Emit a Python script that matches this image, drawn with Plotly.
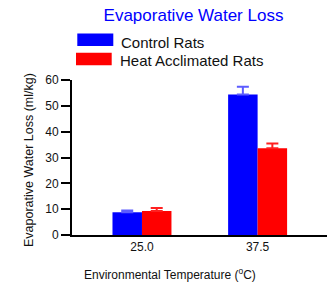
import plotly.graph_objects as go

categories = ["25.0", "37.5"]
control_vals = [8.8, 54.4]
control_err = [0.7, 3.0]
heat_vals = [9.3, 33.6]
heat_err = [1.2, 1.8]
y_ticks = [0, 10, 20, 30, 40, 50, 60]

FONT = "Liberation Sans, Arial, sans-serif"

W, H = 327, 286
L, R, T, B = 72, 0, 80, 51
PW, PH = W - L - R, H - T - B


def px(x):
    return (x - L) / PW


def py(y):
    return (H - B - y) / PH


fig = go.Figure()
fig.add_trace(go.Bar(
    x=categories, y=control_vals, name="Control Rats",
    marker=dict(color="#0000ff", line=dict(width=0)),
    error_y=dict(type="data", array=control_err, arrayminus=[0, 0], symmetric=False,
                 color="#5c5cff", thickness=2, width=6),
    showlegend=False,
))
fig.add_trace(go.Bar(
    x=categories, y=heat_vals, name="Heat Acclimated Rats",
    marker=dict(color="#ff0000", line=dict(width=0)),
    error_y=dict(type="data", array=heat_err, arrayminus=[0, 0], symmetric=False,
                 color="#ff2020", thickness=2, width=6),
    showlegend=False,
))

# custom legend
fig.add_shape(type="rect", xref="paper", yref="paper", x0=px(77.3), x1=px(113.3),
              y0=py(46), y1=py(33.5), fillcolor="#0000ff", line=dict(width=0))
fig.add_shape(type="rect", xref="paper", yref="paper", x0=px(76), x1=px(111.7),
              y0=py(65.3), y1=py(52.7), fillcolor="#ff0000", line=dict(width=0))
fig.add_annotation(text="Control Rats", xref="paper", yref="paper",
                   x=px(119), y=py(42), xanchor="left", yanchor="middle",
                   showarrow=False, font=dict(family=FONT, size=15, color="#111"))
fig.add_annotation(text="Heat Acclimated Rats", xref="paper", yref="paper",
                   x=px(118), y=py(60.5), xanchor="left", yanchor="middle",
                   showarrow=False, font=dict(family=FONT, size=15, color="#111"))

# axis titles
fig.add_annotation(text="Evaporative Water Loss (ml/kg)", xref="paper", yref="paper",
                   x=px(29), y=py(160), textangle=-90,
                   xanchor="center", yanchor="middle", showarrow=False,
                   font=dict(family=FONT, size=12.5, color="#111"))
fig.add_annotation(text="Environmental Temperature (<sup>o</sup>C)", xref="paper", yref="paper",
                   x=px(170), y=py(274), xanchor="center", yanchor="middle", showarrow=False,
                   font=dict(family=FONT, size=12, color="#111"))

fig.update_layout(
    width=W, height=H,
    margin=dict(l=L, r=R, t=T, b=B),
    plot_bgcolor="white", paper_bgcolor="white",
    barmode="group", bargap=0.49, bargroupgap=0,
    title=dict(text="Evaporative Water Loss", x=193.5 / W, xanchor="center",
               y=1 - 15 / H, yanchor="middle",
               font=dict(family=FONT, size=17, color="#0000ff")),
    font=dict(family=FONT, size=12, color="#111"),
    xaxis=dict(type="category", range=[-0.605, 1.6], showline=True, linecolor="black",
               linewidth=2, ticks="", showgrid=False, zeroline=False,
               tickfont=dict(family=FONT, size=12, color="#111")),
    yaxis=dict(range=[0, 60], tickvals=y_ticks, showline=True, linecolor="black",
               linewidth=2, ticks="outside", ticklen=9, tickwidth=2, tickcolor="black",
               showgrid=False, zeroline=False,
               tickfont=dict(family=FONT, size=12, color="#111")),
)

fig.write_html("out.html", config={"displayModeBar": False},
               post_script="document.body.style.margin='0';document.body.style.overflow='hidden';")
